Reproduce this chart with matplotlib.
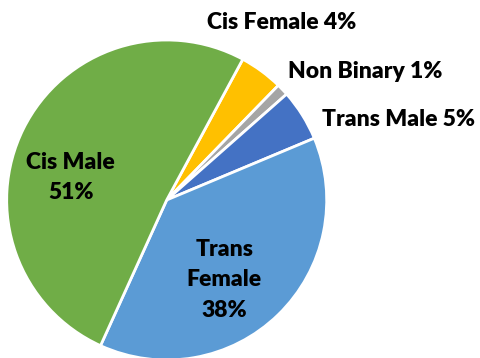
import matplotlib.pyplot as plt

# gender breakdown, clockwise from the top
groups = ['Cis Female', 'Non Binary', 'Trans Male', 'Trans Female', 'Cis Male']
shares = [4.4, 1.2, 5.2, 38.1, 51.1]
colors = ['#FFC000', '#A5A5A5', '#4472C4', '#5B9BD5', '#70AD47']

# label text layout: (x, y, text template)
label_pos = [(0.72, 1.11), (1.24, 0.80), (1.45, 0.50), (0.36, -0.50), (-0.60, 0.14)]
label_fmt = ['{n} {p}%', '{n} {p}%', '{n} {p}%', 'Trans\nFemale\n{p}%', 'Cis Male\n{p}%']

W, H = 480, 358
cx, cy, r = 166.7, 200, 160  # pie centre / radius in pixels

fig = plt.figure(figsize=(W / 100, H / 100), dpi=100)
ax = fig.add_axes([0, 0, 1, 1])
ax.pie(shares, colors=colors, startangle=61.6, counterclock=False,
       wedgeprops=dict(edgecolor='white', linewidth=2))
ax.set_xlim(-cx / r, (W - cx) / r)
ax.set_ylim(-(H - cy) / r, cy / r)
ax.axis('off')

total = sum(shares)
for name, v, (x, y), fmt in zip(groups, shares, label_pos, label_fmt):
    p = round(v / total * 100)
    ax.text(x, y, fmt.format(n=name, p=p), ha='center', va='center',
            fontsize=16.5, fontweight='heavy', family='Lato', color='black',
            linespacing=1.55)

fig.savefig('out.png', dpi=100)
